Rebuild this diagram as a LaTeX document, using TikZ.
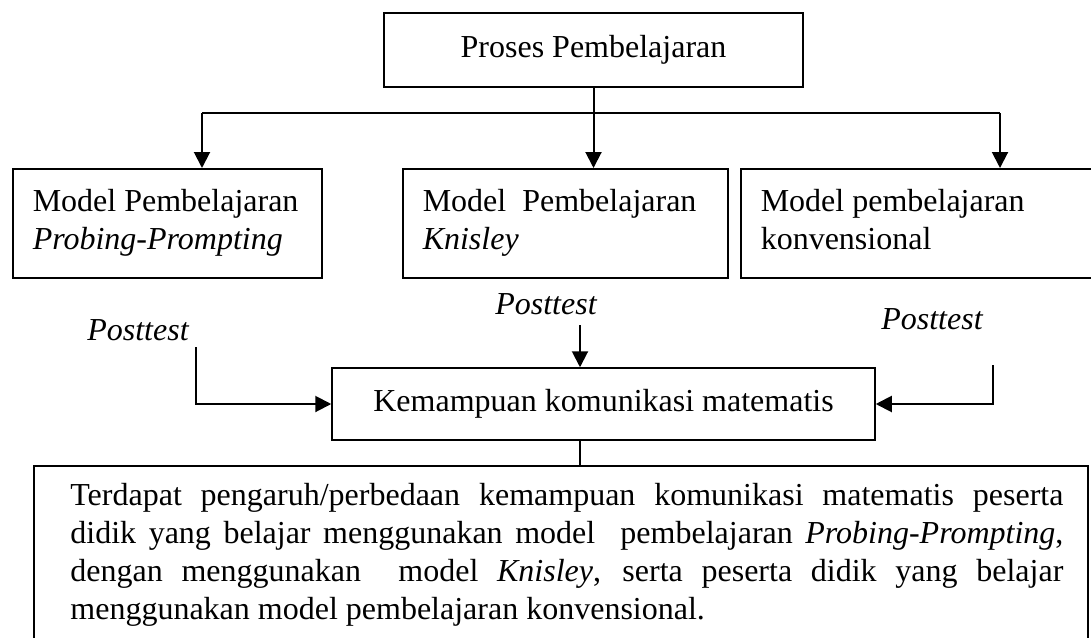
\documentclass[tikz,border=0pt]{standalone}
\usepackage{fontspec}
\setmainfont{Liberation Serif}
\usepackage{tikz}
\usetikzlibrary{arrows.meta,positioning}
\newcommand{\ukuran}{\fontsize{16}{19}\selectfont}

\begin{document}
\begin{tikzpicture}[x=0.5pt,y=-0.5pt,>={Triangle[length=8pt,width=8pt]},
  kotak/.style={draw,line width=0.75pt,inner xsep=10pt,inner ysep=0pt,font=\ukuran,
    align=flush left,anchor=north west,minimum height=54.5pt,
    execute at begin node=\strut,execute at end node=\strut},
  judul/.style={draw,line width=0.75pt,font=\ukuran,align=center},
  ket/.style={font=\ukuran\itshape,inner sep=0pt,anchor=base},
  garis/.style={line width=1pt}]
  \useasboundingbox (0,0) rectangle (1091,637);
  \clip (0,0) rectangle (1091,637);

  \node[judul,minimum width=209.5pt,minimum height=37pt] (proses) at (593.5,50) {Proses Pembelajaran};
  \node[kotak,text width=134.5pt] (model1) at (12,168) {Model Pembelajaran\\\textit{Probing-Prompting}};
  \node[kotak,text width=142.5pt] (model2) at (402,168) {Model~ Pembelajaran\\\textit{Knisley}};
  \node[kotak,text width=160pt] (model3) at (740,168) {Model pembelajaran\\konvensional};

  \coordinate (cabangkiri) at (202,113);
  \coordinate (cabangkanan) at (1000,113);
  \draw[line width=0.75pt] (cabangkiri) -- (cabangkanan);
  \draw[garis,->] (proses.south) -- (proses.south |- model2.north);
  \draw[garis,->] (cabangkiri) -- (cabangkiri |- model1.north);
  \draw[garis,->] (cabangkanan) -- (cabangkanan |- model3.north);

  \node[ket] (post1) at (138,340) {Posttest};
  \node[ket] (post2) at (546,314) {Posttest};
  \node[ket] (post3) at (932,329) {Posttest};
  \node[judul,minimum width=271.5pt,minimum height=36pt] (kem) at (603.5,404) {Kemampuan komunikasi matematis};

  \coordinate (masukkiri) at (196,347);
  \coordinate (masuktengah) at (580,325);
  \coordinate (masukkanan) at (993,365);
  \draw[garis,->] (masukkiri) |- (kem.west);
  \draw[garis,->] (masuktengah) -- (masuktengah |- kem.north);
  \draw[garis,->] (masukkanan) |- (kem.east);

  \node[draw,line width=0.75pt,anchor=north west,minimum width=527pt,minimum height=100pt,inner sep=0pt] (hasil) at (33,465) {};
  \draw[line width=0.75pt] (masuktengah |- kem.south) -- (masuktengah |- hasil.north);
  \node[anchor=north west,inner sep=0pt,font=\ukuran,align=left] (simpulan) at (70,483)
    {\makebox[496.5pt][s]{Terdapat pengaruh/perbedaan kemampuan komunikasi matematis peserta}\\
     \makebox[496.5pt][s]{didik yang belajar menggunakan model~ pembelajaran \textit{Probing-Prompting},}\\
     \makebox[496.5pt][s]{dengan menggunakan~ model \textit{Knisley}, serta peserta didik yang belajar}\\
     menggunakan model pembelajaran konvensional.};
\end{tikzpicture}
\end{document}
